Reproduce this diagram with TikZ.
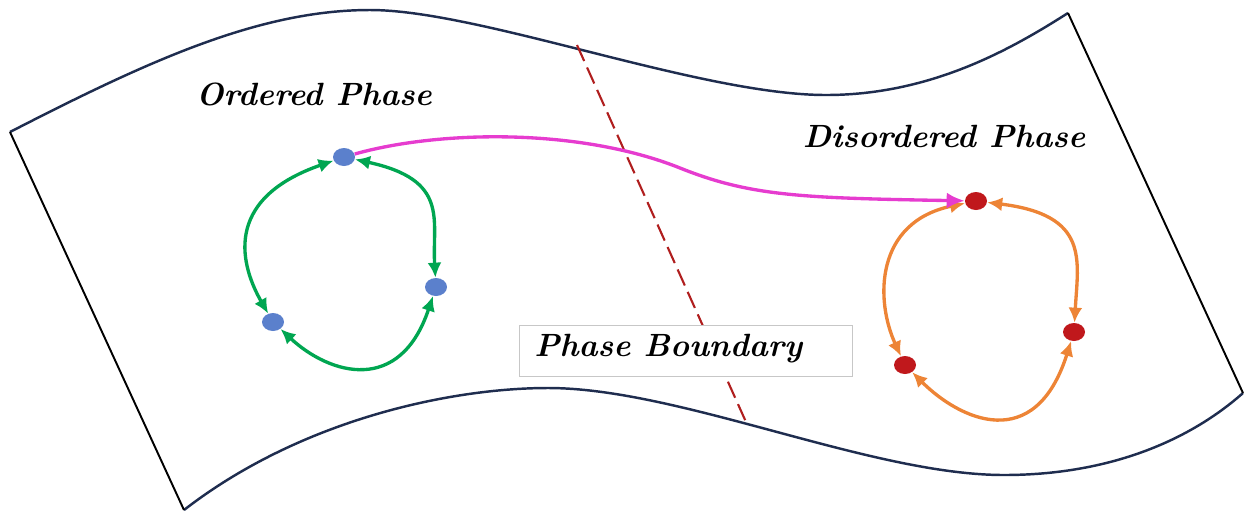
\documentclass[tikz,border=0pt]{standalone}
\usepackage{tikz}
\usetikzlibrary{shapes.geometric, arrows.meta, positioning}
\definecolor{sheetnavy}{HTML}{1F2D4F}
\definecolor{orderblue}{HTML}{5B80CC}
\definecolor{disorderred}{HTML}{C0181C}
\definecolor{cyclegreen}{HTML}{00A651}
\definecolor{cycleorange}{HTML}{ED8436}
\definecolor{jumpmagenta}{HTML}{E63CCF}
\definecolor{boundaryred}{HTML}{B01E1E}
\tikzset{
  phasedot/.style={ellipse, minimum width=0.44cm, minimum height=0.36cm, inner sep=0pt, draw=none},
  phaselabel/.style={font=\fontsize{18.3}{22}\selectfont\bfseries\itshape, inner sep=0pt},
  cyclearrow/.style={{Latex[length=3mm,width=2.8mm]}-{Latex[length=3mm,width=2.8mm]}, line width=1.9pt},
  jumparrow/.style={-{Latex[length=3.6mm,width=3.2mm]}, line width=1.9pt, jumpmagenta},
  sheetedge/.style={line width=1.4pt, sheetnavy},
  sideedge/.style={line width=1.1pt, black},
}

\begin{document}
\begin{tikzpicture}[x=0.02cm, y=-0.02cm]
  \useasboundingbox (0,0) rectangle (1245,512);
  \coordinate (tl) at (10,132);
  \coordinate (tr) at (1068,13);
  \coordinate (bl) at (184,510);
  \coordinate (br) at (1243,393);
  \coordinate (cuttop) at (577,45);
  \coordinate (cutbot) at (746,422);
  \draw[sheetedge] (tl) .. controls (150,60) and (260,10) .. (370,10)
    .. controls (480,10) and (700,95) .. (826,95)
    .. controls (930,95) and (1010,50) .. (tr);
  \draw[sheetedge] (bl) .. controls (300,420) and (450,388) .. (548,388)
    .. controls (680,388) and (870,475) .. (1004,475)
    .. controls (1110,475) and (1190,440) .. (br);
  \draw[sideedge] (tl) -- (bl);
  \draw[sideedge] (tr) -- (br);
  \draw[boundaryred, line width=1.2pt, dash pattern=on 10pt off 4pt] (cuttop) -- (cutbot);
  \node[draw=black!22, fill=white, minimum width=6.66cm, minimum height=1.02cm, inner sep=0pt] (boundbox) at (685.5,351) {};
  \node[phaselabel, anchor=west] (boundtext) at (534,349) {Phase Boundary};
  \node[phaselabel] (ordtext) at (314,94) {Ordered Phase};
  \node[phaselabel] (distext) at (944,136) {Disordered Phase};
  \node[phasedot, fill=orderblue] (otop) at (344,157) {};
  \node[phasedot, fill=orderblue] (oright) at (436,287) {};
  \node[phasedot, fill=orderblue] (oleft) at (273,322) {};
  \node[phasedot, fill=disorderred] (dtop) at (976,201) {};
  \node[phasedot, fill=disorderred] (dright) at (1074,332) {};
  \node[phasedot, fill=disorderred] (dleft) at (905,365) {};
  \draw[cyclearrow, cyclegreen] (otop) .. controls (220,200) and (242,268) .. (oleft);
  \draw[cyclearrow, cyclegreen] (otop) .. controls (450,180) and (432,220) .. (oright);
  \draw[cyclearrow, cyclegreen] (oleft) .. controls (330,375) and (400,395) .. (oright);
  \draw[cyclearrow, cycleorange] (dtop) .. controls (875,222) and (875,300) .. (dleft);
  \draw[cyclearrow, cycleorange] (dtop) .. controls (1090,215) and (1078,260) .. (dright);
  \draw[cyclearrow, cycleorange] (dleft) .. controls (960,420) and (1035,455) .. (dright);
  \draw[jumparrow] (otop) .. controls (440,130) and (580,128) .. (680,168)
    .. controls (750,196) and (800,198) .. (dtop);
\end{tikzpicture}
\end{document}
